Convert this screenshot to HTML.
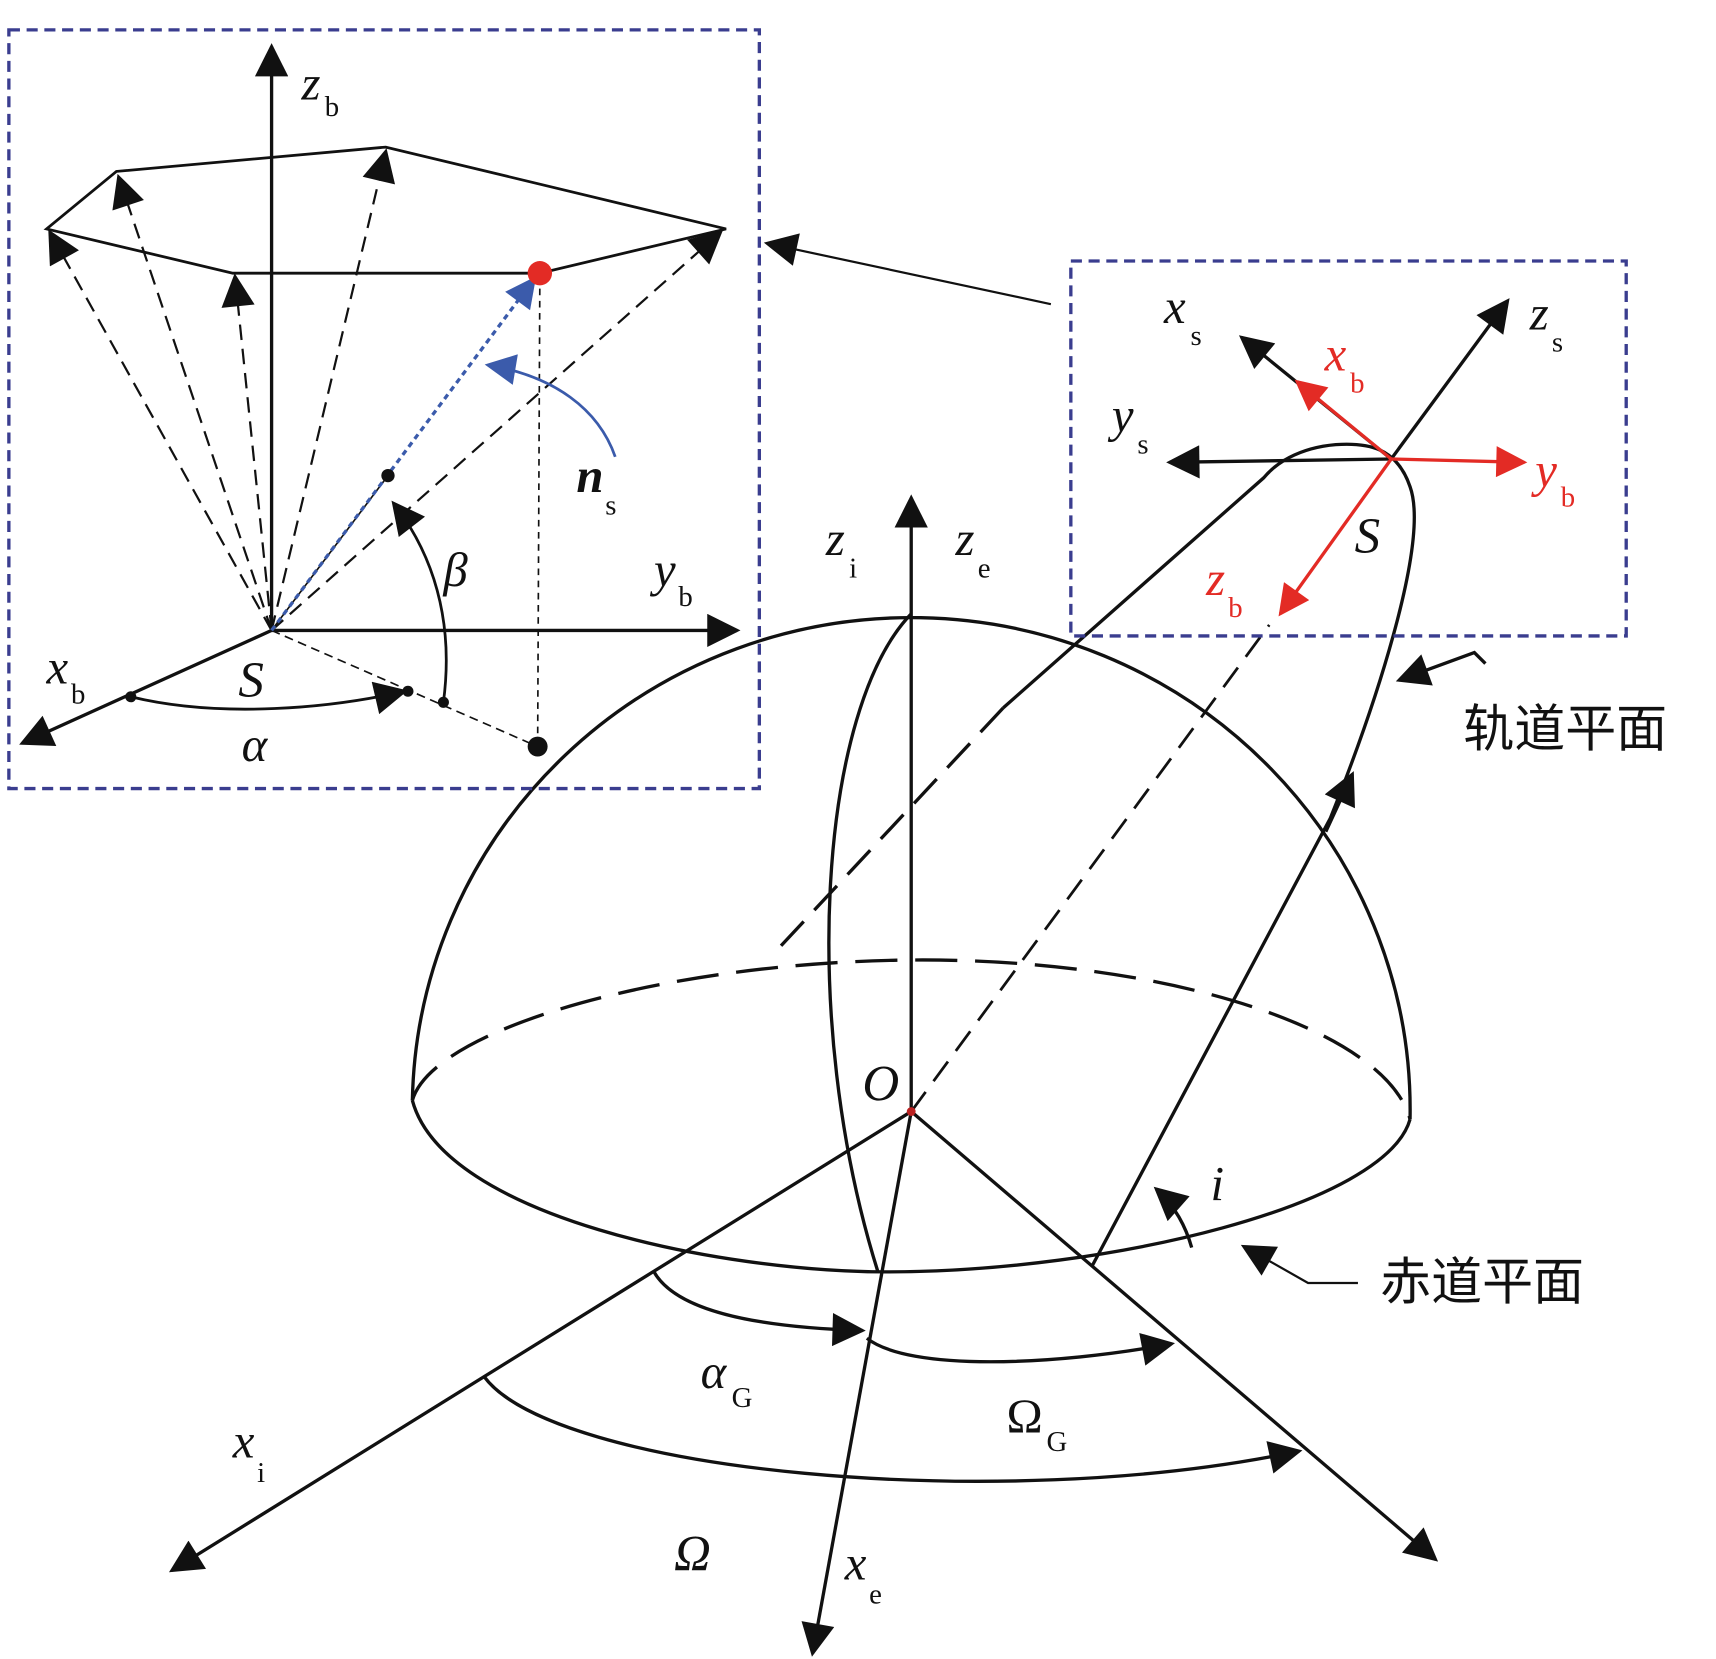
<!DOCTYPE html>
<html><head><meta charset="utf-8"><style>
html,body{margin:0;padding:0;background:#fff;width:1716px;height:1659px;overflow:hidden}
svg{display:block}
text{font-family:"Liberation Serif","Noto Serif CJK SC",serif;font-style:italic;fill:#111}
.s{font-size:26px;font-style:normal}
.cn{font-family:"Liberation Sans","Noto Sans CJK SC",sans-serif;font-style:normal;font-size:46px}
</style></head><body>
<svg width="1716" height="1659" viewBox="0 0 1548 1500" preserveAspectRatio="none" xmlns="http://www.w3.org/2000/svg">
<defs>
<marker id="A" viewBox="0 0 10 10" refX="9" refY="5" markerWidth="44" markerHeight="30" markerUnits="userSpaceOnUse" orient="auto"><path d="M0,0 L10,5 L0,10 z" fill="#111"/></marker>
<marker id="R" viewBox="0 0 10 10" refX="9" refY="5" markerWidth="40" markerHeight="28" markerUnits="userSpaceOnUse" orient="auto"><path d="M0,0 L10,5 L0,10 z" fill="#e32b25"/></marker>
<marker id="B" viewBox="0 0 10 10" refX="9" refY="5" markerWidth="40" markerHeight="28" markerUnits="userSpaceOnUse" orient="auto"><path d="M0,0 L10,5 L0,10 z" fill="#3b5bab"/></marker>
</defs>
<g fill="none" stroke="#111" stroke-width="3">
<path d="M372,995 A450,445 0 0 1 1272,1012"/>
<path d="M372,995 C400,1100 650,1150 800,1150 C1000,1150 1250,1090 1272,1012"/>
<path d="M372,995 C390,930 600,870 822,868 C1050,866 1250,930 1272,1012" stroke-dasharray="38,16"/>
<path d="M822,555 C740,640 720,920 792,1150"/>
<path d="M985,1145 L1200,740 C1240,640 1290,490 1272,440 C1260,405 1235,400 1205,402 C1170,405 1150,420 1140,432 L905,640"/>
<path d="M905,640 L700,860" stroke-dasharray="30,14"/>
<path d="M822,1005 L1145,565" stroke-dasharray="22,12" stroke-width="2.5"/>
<path d="M822,1005 L822,450" marker-end="url(#A)"/>
<path d="M822,1005 L155,1420" marker-end="url(#A)"/>
<path d="M822,1005 L733,1495" marker-end="url(#A)"/>
<path d="M822,1005 L1295,1410" marker-end="url(#A)"/>
<path d="M590,1150 C610,1185 680,1200 778,1203" marker-end="url(#A)"/>
<path d="M782,1210 C820,1240 950,1235 1057,1215" marker-end="url(#A)"/>
<path d="M437,1245 C500,1330 900,1370 1172,1312" marker-end="url(#A)"/>
<path d="M1075,1128 C1070,1110 1060,1090 1043,1075" marker-end="url(#A)"/>
<path d="M1196,752 L1220,700" marker-end="url(#A)"/>
<path d="M1340,600 L1330,590 L1262,615" marker-end="url(#A)"/>
<path d="M1225,1160 L1180,1160 L1122,1127" marker-end="url(#A)" stroke-width="2"/>
<path d="M948,275 L692,220" marker-end="url(#A)" stroke-width="2"/>
</g>
<circle cx="822" cy="1005" r="4" fill="#b22"/>
<rect x="8" y="27" width="677" height="686" fill="none" stroke="#3a3d8f" stroke-width="3" stroke-dasharray="10,6"/>
<rect x="966" y="236" width="501" height="339" fill="none" stroke="#3a3d8f" stroke-width="3" stroke-dasharray="10,6"/>
<g fill="none" stroke="#111" stroke-width="2.5">
<path d="M42,207 L105,155 L348,133 L655,207 L487,247 L210,247 Z"/>
<path d="M245,570 L245,42" marker-end="url(#A)" stroke-width="3"/>
<path d="M245,570 L665,570" marker-end="url(#A)" stroke-width="3"/>
<path d="M245,570 L20,672" marker-end="url(#A)" stroke-width="3"/>
<g stroke-dasharray="14,8" stroke-width="2">
<path d="M245,570 L45,210" marker-end="url(#A)"/>
<path d="M245,570 L107,160" marker-end="url(#A)"/>
<path d="M245,570 L212,250" marker-end="url(#A)"/>
<path d="M245,570 L348,137" marker-end="url(#A)"/>
<path d="M245,570 L650,210" marker-end="url(#A)"/>
</g>
<path d="M245,570 L485,675" stroke-dasharray="8,5" stroke-width="1.5"/>
<path d="M487,250 L485,675" stroke-dasharray="6,5" stroke-width="1.5"/>
<path d="M118,630 C200,650 300,640 365,625" marker-end="url(#A)"/>
<path d="M400,635 C410,560 390,500 355,455" marker-end="url(#A)"/>
<path d="M350,430 L245,570" stroke-width="1.5"/>
<path d="M555,413 C540,370 500,340 440,330" stroke="#3b5bab" marker-end="url(#B)"/>
<path d="M245,570 L482,252" stroke="#3b5bab" stroke-dasharray="5,4" stroke-width="3" marker-end="url(#B)"/>
</g>
<circle cx="487" cy="247" r="11" fill="#e32b25"/>
<circle cx="485" cy="675" r="9" fill="#111"/>
<circle cx="118" cy="630" r="5" fill="#111"/><circle cx="368" cy="625" r="5" fill="#111"/><circle cx="400" cy="635" r="5" fill="#111"/><circle cx="350" cy="430" r="6" fill="#111"/>
<g fill="none" stroke-width="3">
<path d="M1255,415 L1120,305" stroke="#111" marker-end="url(#A)"/>
<path d="M1255,415 L1360,272" stroke="#111" marker-end="url(#A)"/>
<path d="M1255,415 L1055,418" stroke="#111" marker-end="url(#A)"/>
<path d="M1255,415 L1170,345" stroke="#e32b25" marker-end="url(#R)"/>
<path d="M1255,415 L1375,418" stroke="#e32b25" marker-end="url(#R)"/>
<path d="M1255,415 L1155,555" stroke="#e32b25" marker-end="url(#R)"/>
</g>
<text x="272" y="90" font-size="44">z</text><text class="s" x="293" y="105">b</text>
<text x="590" y="530" font-size="44">y</text><text class="s" x="612" y="548">b</text>
<text x="42" y="618" font-size="44">x</text><text class="s" x="64" y="636">b</text>
<text x="215" y="630" font-size="46">S</text>
<text x="218" y="688" font-size="44">α</text>
<text x="400" y="530" font-size="44">β</text>
<text x="520" y="445" font-size="44" font-weight="bold">n</text><text class="s" x="546" y="465">s</text>
<text x="1050" y="292" font-size="44">x</text><text class="s" x="1074" y="312">s</text>
<text x="1380" y="298" font-size="44">z</text><text class="s" x="1400" y="318">s</text>
<text x="1003" y="390" font-size="44">y</text><text class="s" x="1026" y="410">s</text>
<text x="1195" y="335" font-size="44" style="fill:#e32b25">x</text><text class="s" x="1218" y="355" style="fill:#e32b25">b</text>
<text x="1385" y="440" font-size="44" style="fill:#e32b25">y</text><text class="s" x="1408" y="458" style="fill:#e32b25">b</text>
<text x="1088" y="538" font-size="44" style="fill:#e32b25">z</text><text class="s" x="1108" y="558" style="fill:#e32b25">b</text>
<text x="1222" y="500" font-size="46">S</text>
<text x="745" y="502" font-size="44">z</text><text class="s" x="766" y="522">i</text>
<text x="862" y="502" font-size="44">z</text><text class="s" x="882" y="522">e</text>
<text x="778" y="995" font-size="46">O</text>
<text x="1092" y="1085" font-size="44">i</text>
<text x="632" y="1255" font-size="44">α</text><text class="s" x="660" y="1272">G</text>
<text x="908" y="1295" font-size="44" style="font-style:normal">Ω</text><text class="s" x="944" y="1312">G</text>
<text x="608" y="1420" font-size="46">Ω</text>
<text x="210" y="1318" font-size="44">x</text><text class="s" x="232" y="1340">i</text>
<text x="762" y="1428" font-size="44">x</text><text class="s" x="784" y="1450">e</text>
<text class="cn" x="1320" y="675">轨道平面</text>
<text class="cn" x="1245" y="1175">赤道平面</text>
</svg>
</body></html>
